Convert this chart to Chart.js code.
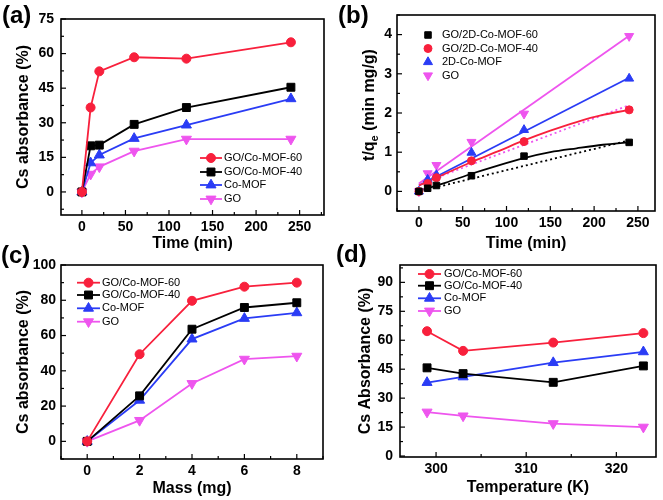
<!DOCTYPE html>
<html><head><meta charset="utf-8">
<script src="https://cdn.jsdelivr.net/npm/chart.js@4.4.0/dist/chart.umd.min.js"></script>
<style>
html,body{margin:0;padding:0;background:#fff;width:663px;height:500px;overflow:hidden;position:relative}
canvas{position:absolute}
</style></head><body>
<canvas id="ca" style="left:0;top:0" width="331" height="260"></canvas>
<canvas id="cb" style="left:331px;top:0" width="332" height="260"></canvas>
<canvas id="cc" style="left:0;top:240px" width="331" height="260"></canvas>
<canvas id="cd" style="left:331px;top:240px" width="332" height="260"></canvas>
<script>
// ---------- data ----------
const timeA = [0, 10, 20, 60, 120, 240];
const aGOCoMOF60 = [0, 36.6, 52.3, 58.4, 57.8, 64.9];
const aGOCoMOF40 = [0, 20.0, 20.3, 29.3, 36.6, 45.4];
const aCoMOF = [0, 12.6, 16.0, 23.2, 29.0, 40.4];
const aGO = [0, 7.7, 10.9, 17.7, 22.9, 22.9];

const timeB = [0, 10, 20, 60, 120, 240];
const bGOCoMOF60 = [0, 0.08, 0.15, 0.40, 0.90, 1.25];
const bGOCoMOF40 = [0, 0.20, 0.35, 0.78, 1.27, 2.08];
const bCoMOF = [0, 0.30, 0.42, 0.99, 1.57, 2.88];
const bGO = [0, 0.46, 0.67, 1.26, 1.98, 3.96];
const fitTimeB = [0, 30, 60, 90, 120, 150, 180, 210, 240];
const bFit60 = [0.02, 0.22, 0.45, 0.66, 0.85, 1.00, 1.10, 1.19, 1.25];
const bFit40 = [0.15, 0.45, 0.75, 1.02, 1.30, 1.55, 1.77, 1.95, 2.08];
const linTimeB = [0, 240];
const bLin60 = [0.0, 1.30];
const bLin40 = [0.18, 2.20];
const bLinCoMOF = [0.15, 2.90];
const bLinGO = [0.20, 3.97];

const massC = [0, 2, 4, 6, 8];
const cGOCoMOF60 = [0, 49.4, 79.7, 87.7, 90.0];
const cGOCoMOF40 = [0, 25.8, 63.6, 75.9, 78.6];
const cCoMOF = [0, 23.3, 58.0, 69.7, 72.9];
const cGO = [0, 11.9, 32.8, 46.6, 48.3];

const tempD = [299, 303, 313, 323];
const dGOCoMOF60 = [64.7, 54.5, 58.8, 63.7];
const dGOCoMOF40 = [45.7, 42.7, 38.2, 46.7];
const dCoMOF = [38.1, 41.0, 48.4, 54.0];
const dGO = [22.8, 20.8, 16.8, 15.0];

const labelsAC = ['GO/Co-MOF-60', 'GO/Co-MOF-40', 'Co-MOF', 'GO'];
const labelsB = ['GO/2D-Co-MOF-60', 'GO/2D-Co-MOF-40', '2D-Co-MOF', 'GO'];

const xTicksA = [0, 50, 100, 150, 200, 250];
const yTicksA = [0, 15, 30, 45, 60, 75];
const xTicksB = [0, 50, 100, 150, 200, 250];
const yTicksB = [0, 1, 2, 3, 4];
const xTicksC = [0, 2, 4, 6, 8];
const yTicksC = [0, 20, 40, 60, 80, 100];
const xTicksD = [300, 310, 320];
const yTicksD = [0, 15, 30, 45, 60, 75, 90];

// ---------- style ----------
const FONT = '"Liberation Sans", Arial, Helvetica, sans-serif';
const RED = '#f8203c', BLK = '#000000', BLU = '#2a3cf5', MAG = '#ee55ee';

function pts(xs, ys) { return xs.map((x, i) => ({x: x, y: ys[i]})); }
function markerDS(label, xs, ys, color, style, r, rot, line) {
  return {label, data: pts(xs, ys), borderColor: color, backgroundColor: color,
    pointBackgroundColor: color, pointBorderColor: color, pointStyle: style,
    pointRadius: r, pointHoverRadius: r, pointRotation: rot || 0, pointBorderWidth: 1,
    borderWidth: line ? 1.8 : 0, showLine: !!line, tension: 0};
}
function lineDS(xs, ys, color, dash, smooth) {
  return {label: '', data: pts(xs, ys), borderColor: color, backgroundColor: color,
    pointRadius: 0, pointHoverRadius: 0, borderWidth: 1.8, borderDash: dash || [], showLine: true,
    tension: 0, cubicInterpolationMode: smooth ? 'monotone' : 'default'};
}
function minors(majors, min, max) {
  const step = majors[1] - majors[0], out = [];
  for (let v = majors[0] - step / 2; v <= max; v += step) if (v >= min) out.push(v);
  return out;
}
function drawMarker(ctx, style, x, y, r, rot, color) {
  ctx.save(); ctx.fillStyle = color; ctx.strokeStyle = color; ctx.lineWidth = 1;
  ctx.translate(x, y); ctx.rotate((rot || 0) * Math.PI / 180);
  ctx.beginPath();
  if (style === 'circle') ctx.arc(0, 0, r, 0, Math.PI * 2);
  else if (style === 'rect') { const s = r * Math.SQRT1_2; ctx.rect(-s, -s, 2 * s, 2 * s); }
  else { for (let k = 0; k < 3; k++) { const a = k * 2 * Math.PI / 3; const px = Math.sin(a) * r, py = -Math.cos(a) * r; if (k) ctx.lineTo(px, py); else ctx.moveTo(px, py); } ctx.closePath(); }
  ctx.fill(); ctx.stroke(); ctx.restore();
}

const framePlugin = {
  id: 'frame',
  afterDraw(chart, args, o) {
    const {ctx, chartArea: a, scales: {x, y}} = chart;
    ctx.save();
    ctx.strokeStyle = '#000'; ctx.lineWidth = 1.2;
    const tx = (v, len) => { const p = x.getPixelForValue(v); ctx.beginPath(); ctx.moveTo(p, a.bottom); ctx.lineTo(p, a.bottom - len); ctx.stroke(); };
    const ty = (v, len) => { const p = y.getPixelForValue(v); ctx.beginPath(); ctx.moveTo(a.left, p); ctx.lineTo(a.left + len, p); ctx.stroke(); };
    o.xMajor.forEach(v => tx(v, 5)); o.xMinor.forEach(v => tx(v, 3));
    o.yMajor.forEach(v => ty(v, 5)); o.yMinor.forEach(v => ty(v, 3));
    ctx.lineWidth = 1.6;
    ctx.strokeRect(a.left, a.top, a.right - a.left, a.bottom - a.top);
    // legend
    const L = o.legend;
    ctx.font = '11px ' + FONT; ctx.fillStyle = '#000'; ctx.textBaseline = 'middle'; ctx.textAlign = 'left';
    L.items.forEach((di, k) => {
      const ds = chart.data.datasets[di]; const yy = L.ys[k];
      if (L.line) { ctx.strokeStyle = ds.borderColor; ctx.lineWidth = 1.8; ctx.beginPath(); ctx.moveTo(L.x0, yy); ctx.lineTo(L.x1, yy); ctx.stroke(); }
      drawMarker(ctx, ds.pointStyle, (L.x0 + L.x1) / 2, yy, L.r || ds.pointRadius, ds.pointRotation, ds.borderColor);
      ctx.fillStyle = '#000'; ctx.fillText(ds.label, L.tx, yy);
    });
    // panel label
    ctx.font = 'bold 24px ' + FONT; ctx.textBaseline = 'alphabetic'; ctx.fillStyle = '#000';
    ctx.fillText(o.panel, o.px, o.py);
    // custom y title with subscript
    if (o.yTitleSub) {
      const t = o.yTitleSub;
      ctx.save(); ctx.translate(t.x, t.y); ctx.rotate(-Math.PI / 2);
      ctx.textBaseline = 'middle';
      const f1 = 'bold 16px ' + FONT, f2 = 'bold 11px ' + FONT;
      ctx.font = f1; const w1 = ctx.measureText(t.a).width, w3 = ctx.measureText(t.c).width;
      ctx.font = f2; const w2 = ctx.measureText(t.b).width;
      let sx = -(w1 + w2 + w3) / 2;
      ctx.font = f1; ctx.fillText(t.a, sx, 0); sx += w1;
      ctx.font = f2; ctx.fillText(t.b, sx, 5); sx += w2;
      ctx.font = f1; ctx.fillText(t.c, sx, 0);
      ctx.restore();
    }
    ctx.restore();
  }
};

function axisX(min, max, ticks, h, title, tpad) {
  return {type: 'linear', min, max,
    afterFit: s => { s.height = h; },
    afterBuildTicks: s => { s.ticks = ticks.map(v => ({value: v})); },
    grid: {display: false, drawTicks: false}, border: {display: false},
    ticks: {autoSkip: false, padding: 4, maxRotation: 0, color: '#000', font: {family: FONT, size: 14, weight: 'bold'}, callback: v => String(v)},
    title: {display: true, text: title, color: '#000', font: {family: FONT, size: 16, weight: 'bold'}, padding: {top: 0, bottom: tpad}}};
}
function axisY(min, max, ticks, w, title, tpad, lpad) {
  return {type: 'linear', min, max,
    afterFit: s => { s.width = w; },
    afterBuildTicks: s => { s.ticks = ticks.map(v => ({value: v})); },
    grid: {display: false, drawTicks: false}, border: {display: false},
    ticks: {autoSkip: false, padding: lpad, color: '#000', font: {family: FONT, size: 14, weight: 'bold'}, callback: v => String(v)},
    title: {display: !!title, text: title || '', color: '#000', font: {family: FONT, size: 16, weight: 'bold'}, padding: {top: tpad, bottom: 0}}};
}
function make(id, datasets, scales, pad, frameOpts) {
  return new Chart(document.getElementById(id), {
    type: 'line',
    data: {datasets},
    options: {responsive: false, animation: false, devicePixelRatio: 1,
      layout: {padding: pad},
      scales,
      plugins: {legend: {display: false}, tooltip: {enabled: false}, frame: frameOpts}},
    plugins: [framePlugin]
  });
}

// (a)
make('ca', [
  markerDS(labelsAC[0], timeA, aGOCoMOF60, RED, 'circle', 4.5, 0, true),
  markerDS(labelsAC[1], timeA, aGOCoMOF40, BLK, 'rect', 5.6, 0, true),
  markerDS(labelsAC[2], timeA, aCoMOF, BLU, 'triangle', 5.8, 0, true),
  markerDS(labelsAC[3], timeA, aGO, MAG, 'triangle', 5.8, 180, true)
], {x: axisX(-24, 278, xTicksA, 45, 'Time (min)', 6.4), y: axisY(-10, 75, yTicksA, 61, 'Cs absorbance (%)', 14.4, 7)},
{top: 19, right: 7, left: 0, bottom: 0},
{xMajor: xTicksA, xMinor: minors(xTicksA, -24, 278), yMajor: yTicksA, yMinor: minors(yTicksA, -10, 75),
 panel: '(a)', px: 2, py: 23,
 legend: {x0: 200, x1: 222, tx: 224, ys: [158, 172, 185, 199], line: true, items: [0, 1, 2, 3]}});

// (b)
make('cb', [
  markerDS(labelsB[0], timeB, bGOCoMOF60, BLK, 'rect', 4.6, 0, false),
  markerDS(labelsB[1], timeB, bGOCoMOF40, RED, 'circle', 4, 0, false),
  markerDS(labelsB[2], timeB, bCoMOF, BLU, 'triangle', 5.2, 0, false),
  markerDS(labelsB[3], timeB, bGO, MAG, 'triangle', 5.2, 180, false),
  lineDS(fitTimeB, bFit60, BLK, [], true),
  lineDS(linTimeB, bLin60, BLK, [2, 3], false),
  lineDS(fitTimeB, bFit40, RED, [], true),
  lineDS(linTimeB, bLin40, MAG, [2, 3], false),
  lineDS(linTimeB, bLinCoMOF, BLU, [], false),
  lineDS(linTimeB, bLinGO, MAG, [], false)
], {x: axisX(-25, 269.5, xTicksB, 49, 'Time (min)', 6.4), y: axisY(-0.5, 4.5, yTicksB, 66, '', 0, 5)},
{top: 15, right: 8, left: 0, bottom: 0},
{xMajor: xTicksB, xMinor: minors(xTicksB, -25, 269.5), yMajor: yTicksB, yMinor: minors(yTicksB, -0.5, 4.5),
 panel: '(b)', px: 7, py: 23,
 yTitleSub: {x: 38.5, y: 105, a: 't/q', b: 'e', c: ' (min mg/g)'},
 legend: {x0: 97, x1: 97, tx: 111, ys: [35, 48.5, 62, 75.5], line: false, items: [0, 1, 2, 3]}});

// (c)
make('cc', [
  markerDS(labelsAC[0], massC, cGOCoMOF60, RED, 'circle', 4.5, 0, true),
  markerDS(labelsAC[1], massC, cGOCoMOF40, BLK, 'rect', 5.6, 0, true),
  markerDS(labelsAC[2], massC, cCoMOF, BLU, 'triangle', 5.8, 0, true),
  markerDS(labelsAC[3], massC, cGO, MAG, 'triangle', 5.8, 180, true)
], {x: axisX(-1, 9, xTicksC, 41, 'Mass (mg)', 1.4), y: axisY(-10, 100, yTicksC, 61, 'Cs absorbance (%)', 14.4, 5)},
{top: 25, right: 8, left: 0, bottom: 0},
{xMajor: xTicksC, xMinor: minors(xTicksC, -1, 9), yMajor: yTicksC, yMinor: minors(yTicksC, -10, 100),
 panel: '(c)', px: 1, py: 23,
 legend: {x0: 77, x1: 100, tx: 102, ys: [42.7, 55, 68.3, 81.7], line: true, items: [0, 1, 2, 3]}});

// (d)
make('cd', [
  markerDS(labelsAC[0], tempD, dGOCoMOF60, RED, 'circle', 4.5, 0, true),
  markerDS(labelsAC[1], tempD, dGOCoMOF40, BLK, 'rect', 5.6, 0, true),
  markerDS(labelsAC[2], tempD, dCoMOF, BLU, 'triangle', 5.8, 0, true),
  markerDS(labelsAC[3], tempD, dGO, MAG, 'triangle', 5.8, 180, true)
], {x: axisX(296, 324.4, xTicksD, 43, 'Temperature (K)', 2.4), y: axisY(-0.5, 99, yTicksD, 69, 'Cs Absorbance (%)', 24.9, 7)},
{top: 25, right: 7, left: 0, bottom: 0},
{xMajor: xTicksD, xMinor: minors(xTicksD, 296, 324.4), yMajor: yTicksD, yMinor: minors(yTicksD, -0.5, 99),
 panel: '(d)', px: 5, py: 22,
 legend: {x0: 87, x1: 110, tx: 113, ys: [34, 45.7, 58.3, 71], line: true, items: [0, 1, 2, 3]}});
</script>
</body></html>
